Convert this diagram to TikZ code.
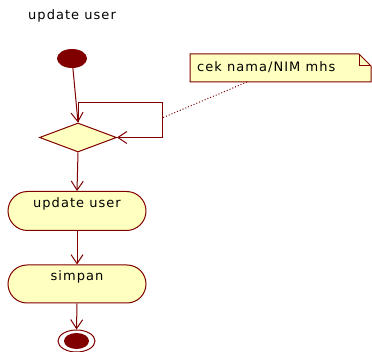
\documentclass[tikz,border=0pt]{standalone}
\usepackage{fontspec}
\setmainfont[LetterSpace=8]{DejaVu Sans}
\usetikzlibrary{shapes.geometric,shapes.misc,arrows.meta}
\definecolor{umlline}{HTML}{800000}
\definecolor{umlfill}{HTML}{FFFFC0}
\begin{document}
\begin{tikzpicture}[x=1pt,y=-1pt,
  every node/.style={font=\fontsize{13}{15}\selectfont},
  line/.style={draw=umlline,line width=1pt},
  arr/.style={line,-{Straight Barb[length=9pt,width=12pt]}},
  actbox/.style={rounded rectangle,line,fill=umlfill,minimum width=138pt,inner sep=0pt},
]
\useasboundingbox (0,0) rectangle (372,352);
\node[anchor=west,inner sep=0pt] (title) at (28,16) {update user};
\node[ellipse,fill=umlline,minimum width=30pt,minimum height=19pt,inner sep=0pt] (init) at (72,58.5) {};
\node[diamond,line,fill=umlfill,minimum width=77pt,minimum height=29pt,aspect=2.65,inner sep=0pt] (dec) at (78,137.5) {};
\node[actbox,minimum height=39pt,label={[yshift=7pt]center:update user}] (upd) at (77,211) {};
\node[actbox,minimum height=38pt,label={[yshift=7pt]center:simpan}] (simp) at (77,284) {};
\node[ellipse,line,fill=white,minimum width=37pt,minimum height=22pt,inner sep=0pt] (fin) at (76.5,341) {};
\node[ellipse,fill=umlline,minimum width=25pt,minimum height=16pt,inner sep=0pt] (finin) at (76.5,341) {};
% note
\fill[umlfill] (190,54) -- (359,54) -- (371,66) -- (371,82) -- (190,82) -- cycle;
\draw[line] (190,54) -- (359,54) -- (371,66) -- (371,82) -- (190,82) -- cycle;
\draw[line] (359,54) -- (359,66) -- (371,66);
\node[anchor=west,inner sep=0pt] (notetext) at (197,67) {cek nama/NIM mhs};
\coordinate (noteanchor) at (247,82);
\coordinate (loopc) at (162,103);
\coordinate (loopm) at (162,118);
% connectors
\draw[arr] (init) -- (dec.north);
\draw[arr] (dec.north) |- (loopc) |- (dec.east);
\draw[line,dotted] (noteanchor) -- (loopm);
\draw[arr] (dec.south) -- (upd.north);
\draw[arr] (upd.south) -- (simp.north);
\draw[arr] (simp.south) -- (fin.north);
\end{tikzpicture}
\end{document}
